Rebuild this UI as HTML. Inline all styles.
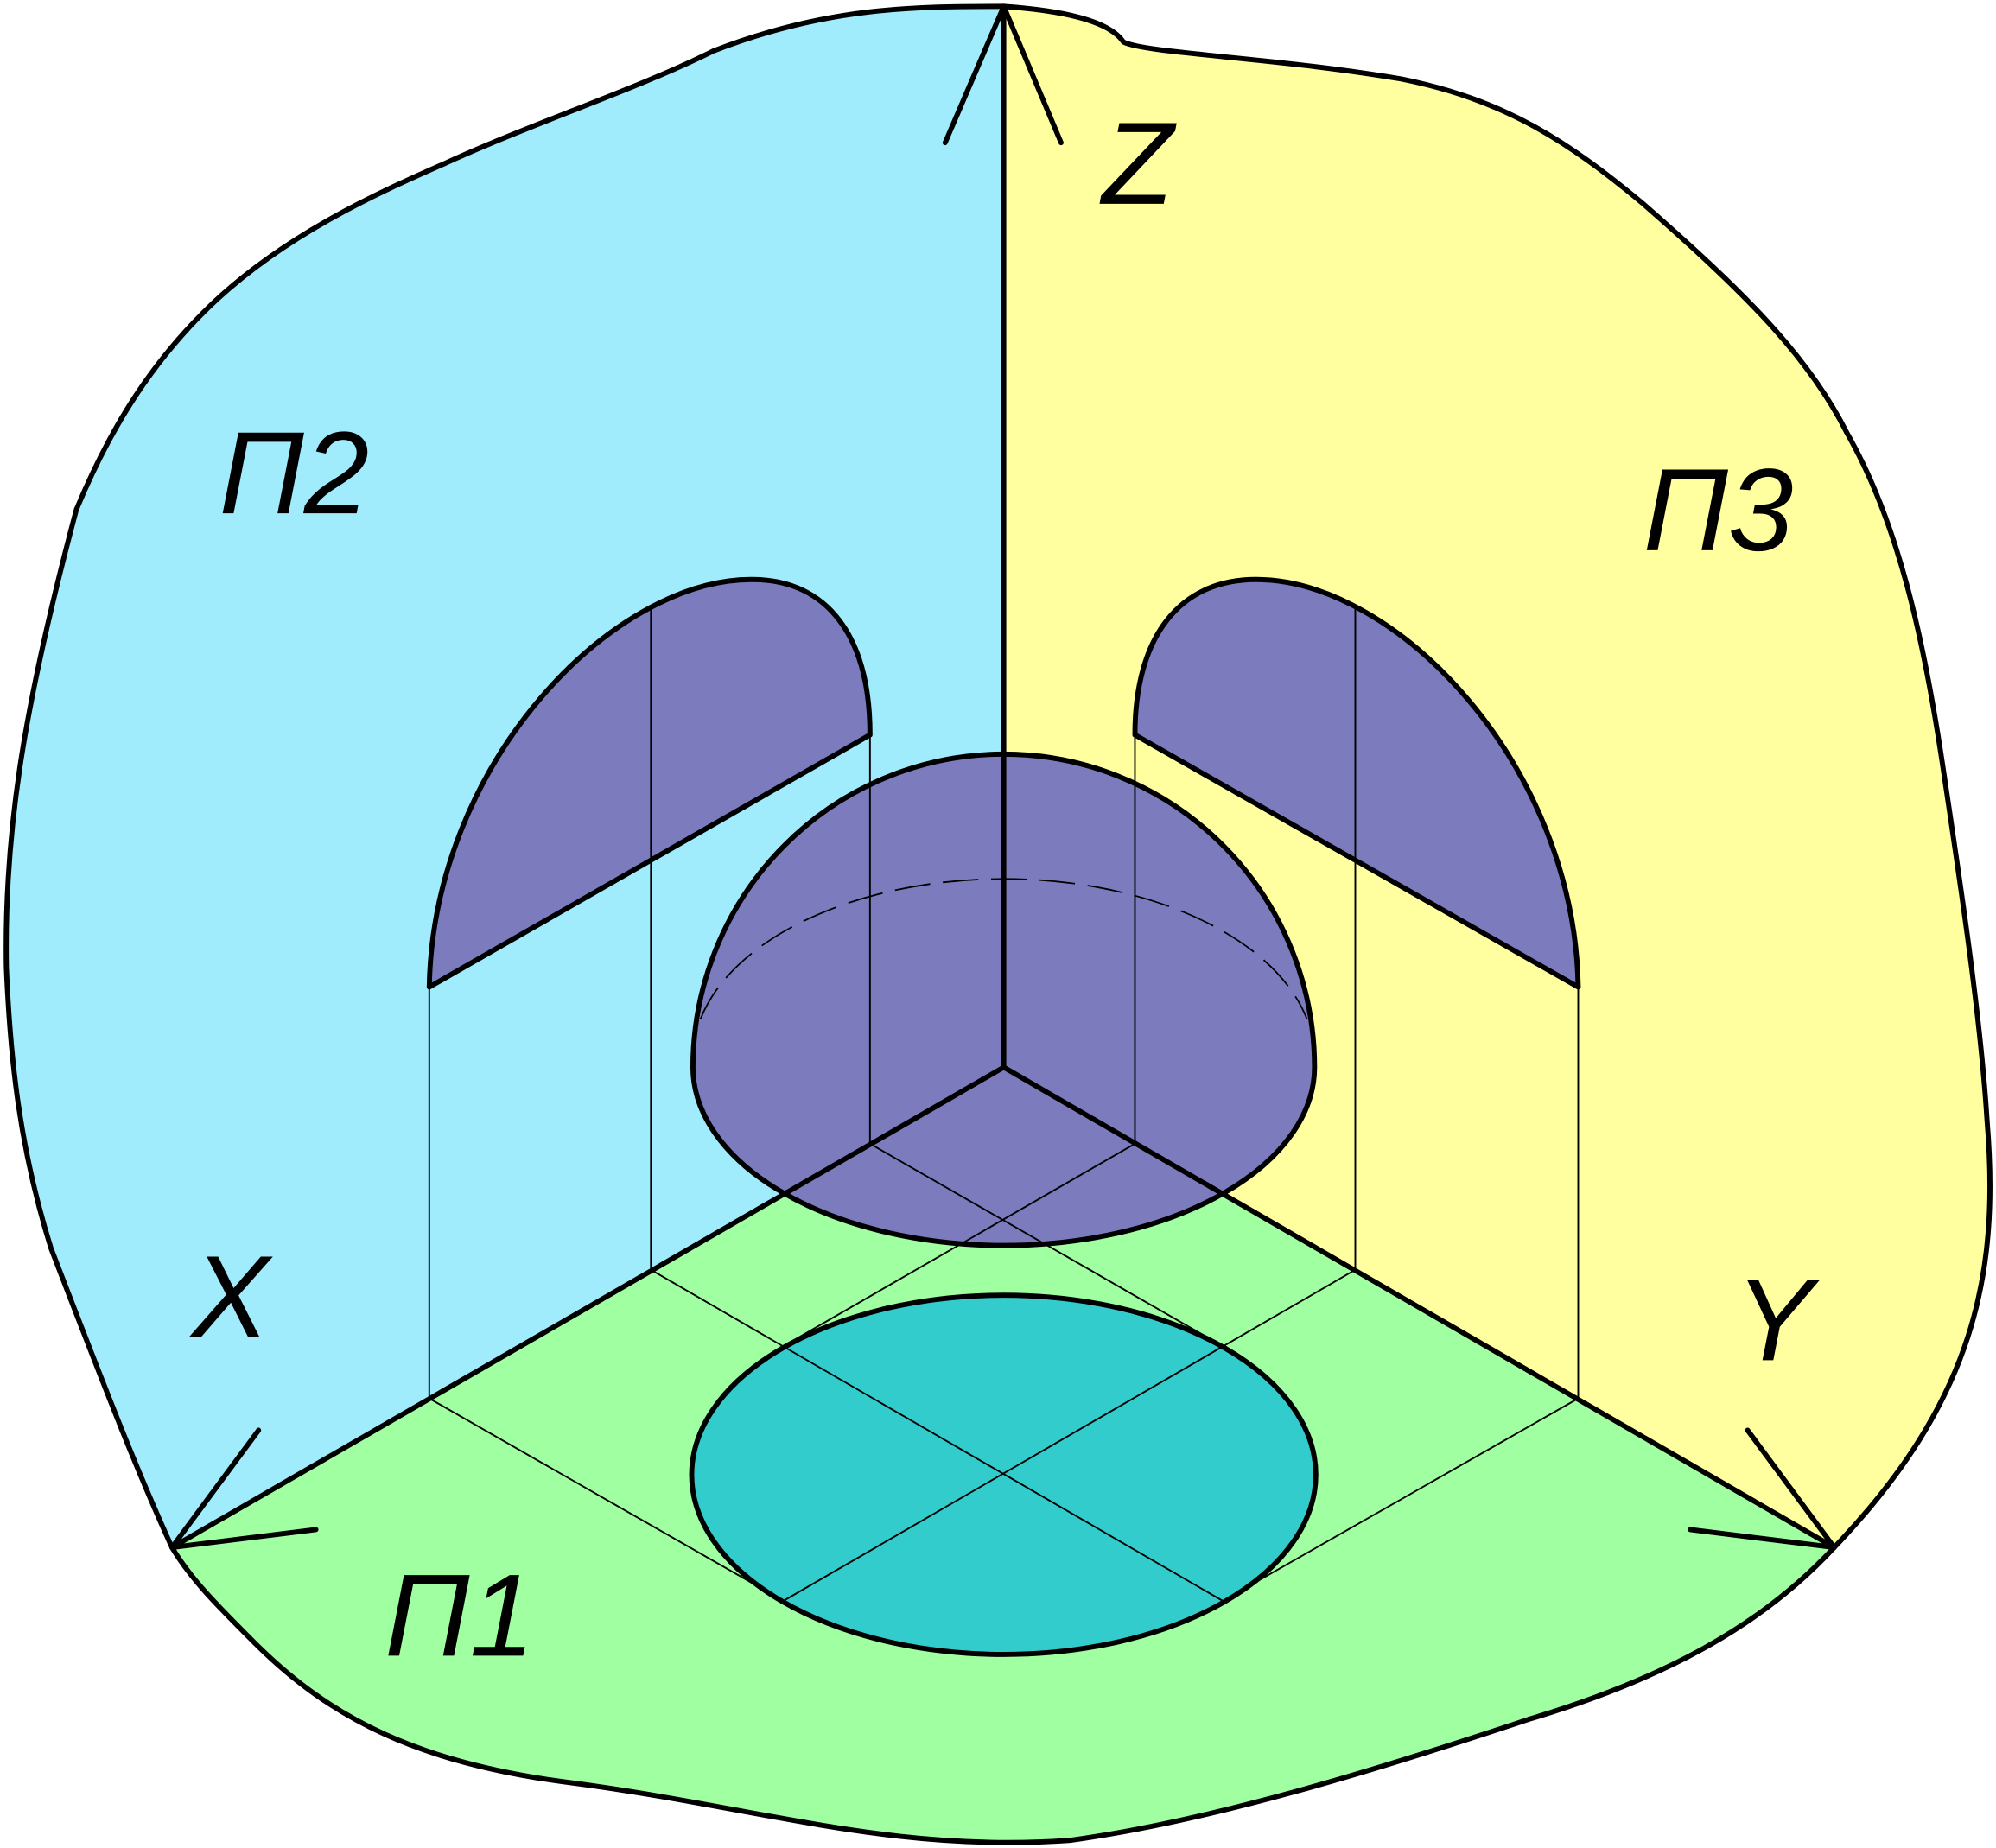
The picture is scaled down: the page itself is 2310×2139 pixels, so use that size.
<!DOCTYPE html>
<html><head><meta charset="utf-8"><style>html,body{margin:0;padding:0;background:#fff}svg{display:block}</style></head>
<body>
<svg width="2310" height="2139" viewBox="0 0 1567 1451" xmlns="http://www.w3.org/2000/svg">
<path d="M788,5 L788,838 L135,1215 C110,1160 90,1110 40,980 C15,900 8,830 5,760 C3,650 20,550 60,400 C85,340 115,290 160,245 C220,185 300,150 350,128 C420,96 500,70 560,40 C650,5 720,5 788,5 Z" fill="#a0ebfc"/>
<path d="M788,5 C830,8 870,15 882,33 C900,42 1000,45 1100,62 C1180,78 1230,110 1290,160 C1370,230 1420,280 1450,340 C1490,410 1510,500 1525,600 C1540,700 1555,800 1560,880 C1570,1000 1550,1100 1440,1215 L788,838 Z" fill="#ffffa0"/>
<path d="M135,1215 L788,838 L1440,1215 C1380,1280 1300,1320 1200,1350 C1080,1390 950,1430 840,1445 C700,1455 600,1420 450,1400 C330,1385 260,1350 200,1290 C170,1260 150,1240 135,1215 Z" fill="#a0ffa0"/>
<path d="M788,5 C830,8 870,15 882,33 C900,42 1000,45 1100,62 C1180,78 1230,110 1290,160 C1370,230 1420,280 1450,340 C1490,410 1510,500 1525,600 C1540,700 1555,800 1560,880 C1570,1000 1550,1100 1440,1215 C1380,1280 1300,1320 1200,1350 C1080,1390 950,1430 840,1445 C700,1455 600,1420 450,1400 C330,1385 260,1350 200,1290 C170,1260 150,1240 135,1215 C110,1160 90,1110 40,980 C15,900 8,830 5,760 C3,650 20,550 60,400 C85,340 115,290 160,245 C220,185 300,150 350,128 C420,96 500,70 560,40 C650,5 720,5 788,5 Z" fill="none" stroke="#000" stroke-width="4"/>
<ellipse cx="788" cy="1158" rx="245" ry="141" fill="#33cccc" stroke="#000" stroke-width="4"/>
<path d="M544,838 A244,246 0 0 1 1032,838 A244,140 0 0 1 544,838 Z" fill="#7b7bbd" stroke="#000" stroke-width="4"/>
<path d="M550,800 A244,141 0 0 1 1026,800" fill="none" stroke="#000" stroke-width="1.2" stroke-dasharray="28,10"/>
<path d="M337,775 L683,577 C683,500 650,455 590,455 C480,455 340,600 337,775 Z" fill="#7b7bbd" stroke="#000" stroke-width="4" stroke-linejoin="round"/>
<path d="M1239,775 L891,577 C891,500 926,455 986,455 C1096,455 1236,600 1239,775 Z" fill="#7b7bbd" stroke="#000" stroke-width="4" stroke-linejoin="round"/>
<g stroke="#000" stroke-width="1.3" fill="none">
<line x1="337" y1="775" x2="337" y2="1098"/>
<line x1="511" y1="478" x2="511" y2="997"/>
<line x1="683" y1="577" x2="683" y2="898"/>
<line x1="891" y1="577" x2="891" y2="898"/>
<line x1="1064" y1="478" x2="1064" y2="997"/>
<line x1="1239" y1="775" x2="1239" y2="1098"/>
<line x1="337" y1="1098" x2="615" y2="1257"/>
<line x1="511" y1="997" x2="960" y2="1257"/>
<line x1="683" y1="898" x2="960" y2="1057"/>
<line x1="1239" y1="1098" x2="960" y2="1257"/>
<line x1="1064" y1="997" x2="615" y2="1257"/>
<line x1="891" y1="898" x2="615" y2="1057"/>
</g>
<g stroke="#000" stroke-width="4" stroke-linecap="round" fill="none">
<line x1="788" y1="5" x2="788" y2="838"/>
<line x1="788" y1="838" x2="135" y2="1215"/>
<line x1="788" y1="838" x2="1440" y2="1215"/>
<line x1="788" y1="5" x2="742" y2="112"/>
<line x1="788" y1="5" x2="833" y2="112"/>
<line x1="135" y1="1215" x2="203" y2="1123"/>
<line x1="135" y1="1215" x2="248" y2="1201"/>
<line x1="1440" y1="1215" x2="1372" y2="1123"/>
<line x1="1440" y1="1215" x2="1327" y2="1201"/>
</g>
<g font-family="Liberation Sans, sans-serif" font-style="italic" font-size="92" fill="#000">
<text x="865" y="160">Z</text>
<text x="172" y="403">П2</text>
<text x="1290" y="432">П3</text>
<text x="302" y="1300">П1</text>
<text x="150" y="1050">X</text>
<text x="1362" y="1068">Y</text>
</g>
</svg>
</body></html>
